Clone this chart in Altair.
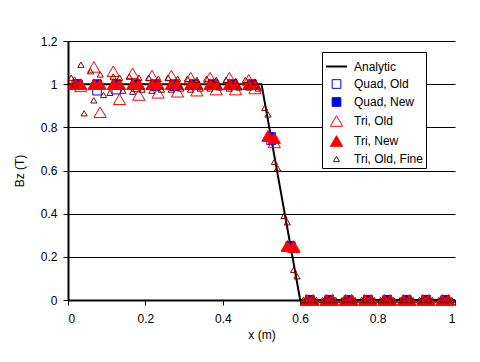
import altair as alt
import pandas as pd

series_names = ["Analytic", "Quad, Old", "Quad, New", "Tri, Old", "Tri, New", "Tri, Old, Fine"]

analytic_x = [0.0, 0.5, 0.6, 1.0]
analytic_y = [1.0, 1.0, 0.0, 0.0]

quad_x = [0.025, 0.075, 0.125, 0.175, 0.225, 0.275, 0.325, 0.375, 0.425, 0.475,
          0.525, 0.575, 0.625, 0.675, 0.725, 0.775, 0.825, 0.875, 0.925, 0.975]
quad_old_y = [1.0, 0.97, 0.975, 0.985, 0.99, 0.99, 0.995, 0.995, 0.995, 0.995,
              0.74, 0.25, 0, 0, 0, 0, 0, 0, 0, 0]
quad_new_y = [1.0, 1.0, 1.0, 1.0, 1.0, 1.0, 1.0, 1.0, 1.0, 1.0,
              0.755, 0.25, 0, 0, 0, 0, 0, 0, 0, 0]

tri_x = [0.017, 0.033, 0.067, 0.083, 0.117, 0.133, 0.167, 0.183, 0.217, 0.233,
         0.267, 0.283, 0.317, 0.333, 0.367, 0.383, 0.417, 0.433, 0.467, 0.483,
         0.517, 0.533, 0.567, 0.583, 0.617, 0.633, 0.667, 0.683, 0.717, 0.733,
         0.767, 0.783, 0.817, 0.833, 0.867, 0.883, 0.917, 0.933, 0.967, 0.983]
tri_old_y = [1.01, 0.99, 1.08, 0.87, 1.06, 0.93, 1.05, 0.95, 1.04, 0.96,
             1.04, 0.965, 1.03, 0.97, 1.03, 0.975, 1.03, 0.975, 1.02, 0.98,
             0.76, 0.73, 0.25, 0.25, 0, 0, 0, 0, 0, 0,
             0, 0, 0, 0, 0, 0, 0, 0, 0, 0]
tri_new_y = [1.0, 1.0, 1.0, 1.0, 1.0, 1.0, 1.0, 1.0, 1.0, 1.0,
             1.0, 1.0, 1.0, 1.0, 1.0, 1.0, 1.0, 1.0, 1.0, 1.0,
             0.76, 0.75, 0.25, 0.245, 0, 0, 0, 0, 0, 0,
             0, 0, 0, 0, 0, 0, 0, 0, 0, 0]

fine_x = [0.0083, 0.0167, 0.0333, 0.0417, 0.0583, 0.0667, 0.0833, 0.0917, 0.1083, 0.1167,
          0.1333, 0.1417, 0.1583, 0.1667, 0.1833, 0.1917, 0.2083, 0.2167, 0.2333, 0.2417,
          0.2583, 0.2667, 0.2833, 0.2917, 0.3083, 0.3167, 0.3333, 0.3417, 0.3583, 0.3667,
          0.3833, 0.3917, 0.4083, 0.4167, 0.4333, 0.4417, 0.4583, 0.4667, 0.4833, 0.4917,
          0.5083, 0.5167, 0.5333, 0.5417, 0.5583, 0.5667, 0.5833, 0.5917, 0.6083, 0.6167,
          0.6333, 0.6417, 0.6583, 0.6667, 0.6833, 0.6917, 0.7083, 0.7167, 0.7333, 0.7417,
          0.7583, 0.7667, 0.7833, 0.7917, 0.8083, 0.8167, 0.8333, 0.8417, 0.8583, 0.8667,
          0.8833, 0.8917, 0.9083, 0.9167, 0.9333, 0.9417, 0.9583, 0.9667, 0.9833, 0.9917]
fine_y = [1.03, 1.00, 1.09, 0.865, 1.06, 0.925, 1.045, 0.95, 0.96, 1.035,
          1.03, 0.97, 1.035, 0.965, 1.03, 0.975, 1.03, 0.97, 1.025, 0.975,
          1.03, 0.975, 1.025, 0.98, 1.025, 0.975, 1.02, 0.98, 1.025, 0.98,
          1.02, 0.985, 1.02, 0.98, 1.015, 0.985, 1.02, 0.985, 1.01, 0.98,
          0.89, 0.86, 0.64, 0.61, 0.39, 0.36, 0.14, 0.11, 0, 0,
          0, 0, 0, 0, 0, 0, 0, 0, 0, 0,
          0, 0, 0, 0, 0, 0, 0, 0, 0, 0,
          0, 0, 0, 0, 0, 0, 0, 0, 0, 0]

x_ticks = [0, 0.2, 0.4, 0.6, 0.8, 1.0]
y_ticks = [0, 0.2, 0.4, 0.6, 0.8, 1.0, 1.2]

line_df = pd.DataFrame({"x": analytic_x, "y": analytic_y, "series": "Analytic"})
rows = []
for name, xs, ys in [("Quad, Old", quad_x, quad_old_y),
                     ("Quad, New", quad_x, quad_new_y),
                     ("Tri, Old", tri_x, tri_old_y),
                     ("Tri, New", tri_x, tri_new_y),
                     ("Tri, Old, Fine", fine_x, fine_y)]:
    for xv, yv in zip(xs, ys):
        rows.append({"x": xv, "y": yv, "series": name})
pts_df = pd.DataFrame(rows)
pts_df["ord"] = range(len(pts_df))

FONT = "Liberation Sans"

xenc = alt.X("x:Q", scale=alt.Scale(domain=[0, 1], nice=False),
             axis=alt.Axis(values=x_ticks, format="~g", title="x (m)", grid=False,
                           labelPadding=8, titlePadding=5))
yenc = alt.Y("y:Q", scale=alt.Scale(domain=[0, 1.2], nice=False),
             axis=alt.Axis(values=y_ticks, format="~g", title="Bz (T)", grid=True,
                           labelPadding=6, titlePadding=14))

line = alt.Chart(line_df).mark_line(color="black", strokeWidth=2).encode(x=xenc, y=yenc)

legend = alt.Legend(title=None, orient="none", legendX=254, legendY=11,
                    fillColor="white", strokeColor="black", padding=3,
                    labelFont=FONT, labelFontSize=12, labelColor="black",
                    rowPadding=4, labelOffset=6, symbolOpacity=1)

points = alt.Chart(pts_df).mark_point(opacity=1).encode(
    x=xenc, y=yenc,
    shape=alt.Shape("series:N", scale=alt.Scale(domain=series_names,
                    range=["stroke", "square", "square", "triangle-up", "triangle-up", "triangle-up"]),
                    legend=legend),
    stroke=alt.Stroke("series:N", scale=alt.Scale(domain=series_names,
                      range=["black", "#0000ff", "#0000ff", "#ff0000", "#ff0000", "#800000"]),
                      legend=legend),
    fill=alt.Fill("series:N", scale=alt.Scale(domain=series_names,
                  range=["transparent", "transparent", "#0000ff", "transparent", "#ff0000", "transparent"]),
                  legend=legend),
    size=alt.Size("series:N", scale=alt.Scale(type="ordinal", domain=series_names,
                  range=[440, 75, 75, 150, 150, 38]),
                  legend=legend),
    strokeWidth=alt.StrokeWidth("series:N", scale=alt.Scale(type="ordinal", domain=series_names,
                                range=[2, 1, 1, 1, 1, 1]), legend=legend),
    order=alt.Order("ord:Q"),
)

chart = alt.layer(line, points).properties(
    width=387, height=259,
    autosize=alt.AutoSizeParams(type="none"),
    padding={"left": 60, "top": 33, "right": 10, "bottom": 50},
    background="white",
).configure_view(stroke=None).configure_axis(
    domainColor="black", domainWidth=2, tickColor="black", tickSize=5, tickWidth=1,
    gridColor="black", gridWidth=1, gridOpacity=1,
    labelFont=FONT, labelFontSize=12, labelColor="black",
    titleFont=FONT, titleFontSize=12, titleFontWeight="normal", titleColor="black",
)

chart.save("out.html", embed_options={"renderer": "svg", "actions": False})
